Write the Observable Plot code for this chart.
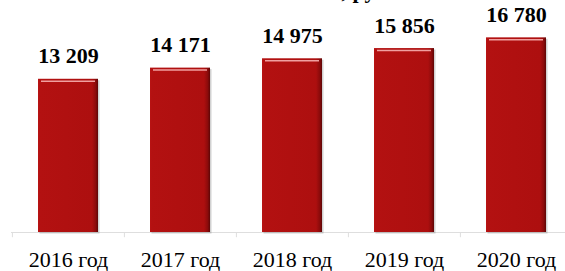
<!DOCTYPE html>
<html>
<head>
<meta charset="utf-8">
<script src="https://cdn.jsdelivr.net/npm/d3@7"></script>
<script src="https://cdn.jsdelivr.net/npm/@observablehq/plot@0.6"></script>
<style>
  html, body { margin: 0; padding: 0; background: #fff; }
  #chart svg { overflow: hidden; }
</style>
</head>
<body>
<div id="chart"></div>
<script>
const years = ["2016 год", "2017 год", "2018 год", "2019 год", "2020 год"];
const values = [13209, 14171, 14975, 15856, 16780];
const titleFragment = ", руб.";

const data = years.map((y, i) => ({year: y, value: values[i]}));
const fmt = d3.formatLocale({thousands: " ", grouping: [3], decimal: ","}).format(",d");
const serif = "Liberation Serif";

const plot = Plot.plot({
  width: 565,
  height: 271,
  marginLeft: 11,
  marginRight: 0,
  marginTop: 0,
  marginBottom: 39,
  style: {background: "#fff", fontFamily: serif},
  x: {domain: years, range: [11, 572], paddingInner: 0.465, paddingOuter: 0.2325, label: null},
  y: {domain: [0, 20000], range: [232, 0], axis: null},
  marks: [
    Plot.ruleY([0], {stroke: "#dedede", strokeWidth: 1}),
    Plot.ruleX(data, {x: "year", y1: 0, y2: -450, dx: -56.1, stroke: "#dedede"}),
    // shadow
    Plot.barY(data, {x: "year", y: "value", fill: "#7a7a7a", fillOpacity: 0.35, dx: 1.5, dy: 1.5}),
    Plot.barY(data, {x: "year", y: "value", fill: "url(#barGrad)"}),
    // top highlight
    Plot.tickY(data, {x: "year", y: "value", stroke: "#f0a0a0", strokeWidth: 1.5, dy: 2, inset: 3}),
    Plot.text(data, {x: "year", y: "value", text: d => fmt(d.value), dy: -16, lineAnchor: "bottom",
      fontSize: 22, fontWeight: "bold", fill: "#000", fontFamily: serif}),
    Plot.axisX({tickSize: 0, tickPadding: 19, fontSize: 22, fill: "#000", fontFamily: serif, label: null}),
    Plot.text([titleFragment], {frameAnchor: "top", text: d => d, textAnchor: "start", lineAnchor: "bottom",
      dx: 53, dy: -3, fontSize: 22, fontWeight: "bold", fill: "#000", fontFamily: serif})
  ]
});

plot.querySelectorAll("text").forEach(el => el.setAttribute("font-family", serif));

const ns = "http://www.w3.org/2000/svg";
const defs = document.createElementNS(ns, "defs");
defs.innerHTML = `
  <linearGradient id="barGrad" x1="0" x2="1" y1="0" y2="0">
    <stop offset="0" stop-color="#b81414"/>
    <stop offset="0.03" stop-color="#b31111"/>
    <stop offset="0.9" stop-color="#ad0f0f"/>
    <stop offset="0.96" stop-color="#8c0b0b"/>
    <stop offset="1" stop-color="#5e0606"/>
  </linearGradient>`;
plot.insertBefore(defs, plot.firstChild);
document.getElementById("chart").appendChild(plot);
</script>
</body>
</html>
